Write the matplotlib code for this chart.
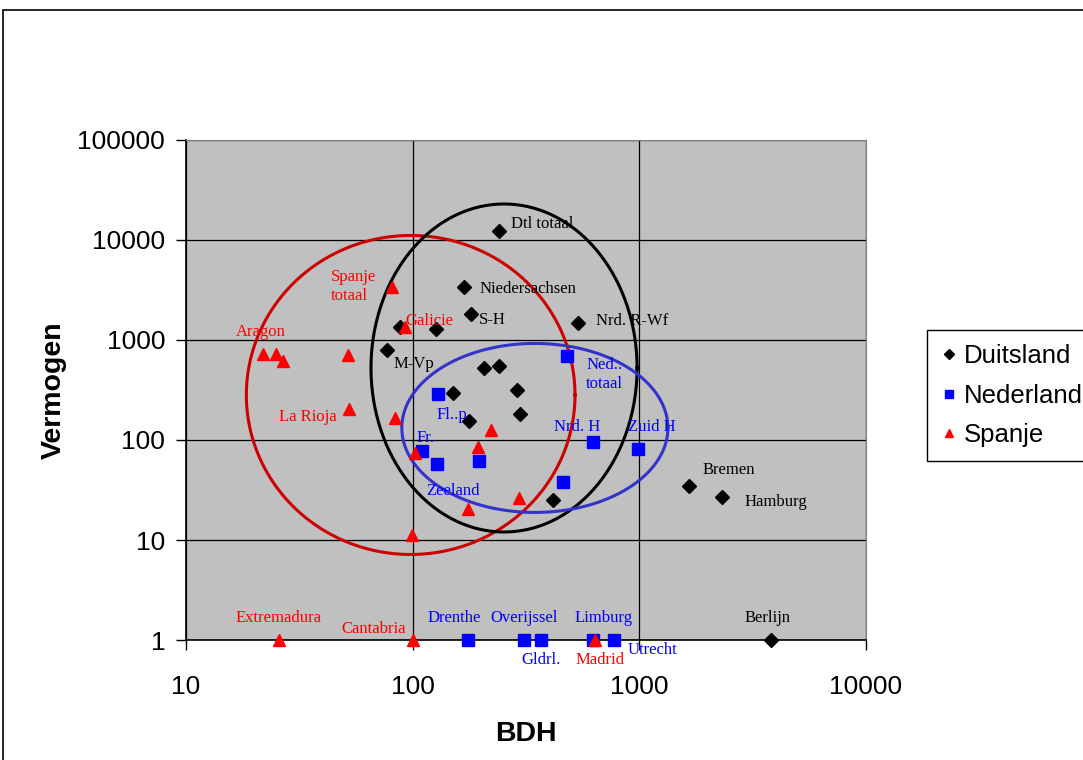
import matplotlib.pyplot as plt
import numpy as np
from matplotlib.patches import Rectangle

# Duitsland (BDH, Vermogen)
de_x = [240, 168, 181, 536, 88, 127, 77, 206, 240, 151, 288, 177, 297, 416, 1656, 2312, 3800]
de_y = [12300, 3390, 1820, 1480, 1350, 1290, 794, 525, 550, 295, 316, 155, 182, 25, 35, 27, 1]
# Nederland
nl_x = [480, 129, 110, 128, 196, 624, 986, 460, 175, 310, 368, 624, 773]
nl_y = [692, 288, 78, 57.5, 62, 95, 81, 38, 1, 1, 1, 1, 1]
# Spanje
es_x = [21.9, 24.9, 26.8, 51.9, 81, 92.5, 52.4, 83.6, 221, 194, 102, 175, 294, 99, 25.7, 100, 637]
es_y = [724, 724, 617, 708, 3390, 1350, 204, 166, 126, 85, 74, 20.4, 26.3, 11.2, 1, 1, 1]

# labels: (index, text, dx px, dy px, ha)
de_labels = [(0, 'Dtl totaal', 12, 7, 'left'), (1, 'Niedersachsen', 16, -2, 'left'),
             (2, 'S-H', 8, -6, 'left'), (3, 'Nrd. R-Wf', 18, 2, 'left'),
             (6, 'M-Vp', 7, -14, 'left'), (14, 'Bremen', 14, 16, 'left'),
             (15, 'Hamburg', 23, -5, 'left'), (16, 'Berlijn', -3, 22, 'center')]
nl_labels = [(0, 'Ned..\ntotaal', 19, -19, 'left'), (1, 'Fl..p', -1, -21, 'left'),
             (2, 'Fr.', -6, 13, 'left'), (3, 'Zeeland', -11, -27, 'left'),
             (5, 'Nrd. H', -16, 15, 'center'), (6, 'Zuid H', 14, 22, 'center'),
             (8, 'Drenthe', -14, 22, 'center'), (9, 'Overijssel', 0, 22, 'center'),
             (10, 'Gldrl.', 0, -20, 'center'), (11, 'Limburg', 11, 22, 'center'),
             (12, 'Utrecht', 14, -10, 'left')]
es_labels = [(0, 'Aragon', -2, 22, 'center'), (4, 'Spanje\ntotaal', -61, 0, 'left'),
             (5, 'Galicie', 0, 6, 'left'), (6, 'La Rioja', -12, -8, 'right'),
             (14, 'Extremadura', 0, 22, 'center'), (15, 'Cantabria', -7, 11, 'right'),
             (16, 'Madrid', 5, -20, 'center')]

# ellipses: centre (data), half-width / half-height in decades, colour
ellipses = [(98, 282, 0.725, 1.595, '#cc0000'),
            (253, 525, 0.587, 1.64, 'black'),
            (346, 132, 0.587, 0.845, '#3333cc')]

plt.rcParams['font.family'] = ['Liberation Sans', 'DejaVu Sans']
fig = plt.figure(figsize=(10.83, 7.6), dpi=100)
ax = fig.add_axes([186/1083, 1-640/760, 680/1083, 500/760])
fig.patches.append(Rectangle((3/1083, -0.1), 1.2, 1-10/760+0.1, transform=fig.transFigure,
                             fill=False, edgecolor='black', linewidth=1.2))

ax.set_facecolor('#c0c0c0')
ax.set_xscale('log')
ax.set_yscale('log')
ax.set_xlim(10, 10000)
ax.set_ylim(1, 100000)
ax.grid(True, which='major', color='black', linewidth=0.9)
ax.set_axisbelow(True)
ax.minorticks_off()
ax.set_xticks([10, 100, 1000, 10000])
ax.set_xticklabels(['10', '100', '1000', '10000'])
ax.set_yticks([1, 10, 100, 1000, 10000, 100000])
ax.set_yticklabels(['1', '10', '100', '1000', '10000', '100000'])
ax.tick_params(labelsize=19, length=7, width=1, direction='out', pad=8)
ax.tick_params(axis='x', pad=18)
for s in ['top', 'right']:
    ax.spines[s].set_color('#808080')
for s in ['left', 'bottom']:
    ax.spines[s].set_color('black')
    ax.spines[s].set_linewidth(1.2)

t = np.linspace(0, 2*np.pi, 400)
for cx, cy, rx, ry, c in ellipses:
    ax.plot(10**(np.log10(cx) + rx*np.cos(t)), 10**(np.log10(cy) + ry*np.sin(t)),
            color=c, linewidth=2.2, zorder=2, clip_on=False)

ax.plot(de_x, de_y, 'D', color='black', markersize=7, linestyle='none', label='Duitsland', zorder=3, clip_on=False)
ax.plot(nl_x, nl_y, 's', color='#0000ff', markersize=8.5, linestyle='none', label='Nederland', zorder=3, clip_on=False)
ax.plot(es_x, es_y, '^', color='#ff0000', markersize=9, linestyle='none', label='Spanje', zorder=4, clip_on=False)

for xs, ys, labs, col in [(de_x, de_y, de_labels, 'black'), (nl_x, nl_y, nl_labels, '#0000ff'),
                          (es_x, es_y, es_labels, '#ff0000')]:
    for i, txt, dx, dy, ha in labs:
        ax.annotate(txt, (xs[i], ys[i]), xytext=(dx*0.72, dy*0.72), textcoords='offset points',
                    ha=ha, va='center', color=col, fontsize=12, family='Liberation Serif',
                    linespacing=1.25, zorder=5, annotation_clip=False)

ax.set_xlabel('BDH', fontsize=20.5, fontweight='bold', labelpad=16)
ax.set_ylabel('Vermogen', fontsize=20.5, fontweight='bold', labelpad=8)

leg = fig.legend(loc='upper left', bbox_to_anchor=(927/1083, 1-330/760), fontsize=18.5,
                 frameon=True, fancybox=False, edgecolor='black', framealpha=1,
                 handlelength=0.6, handletextpad=0.3, borderpad=0.55, labelspacing=0.6,
                 markerscale=0.7, borderaxespad=0)
leg.get_frame().set_linewidth(1)

fig.savefig('out.png', dpi=100)
